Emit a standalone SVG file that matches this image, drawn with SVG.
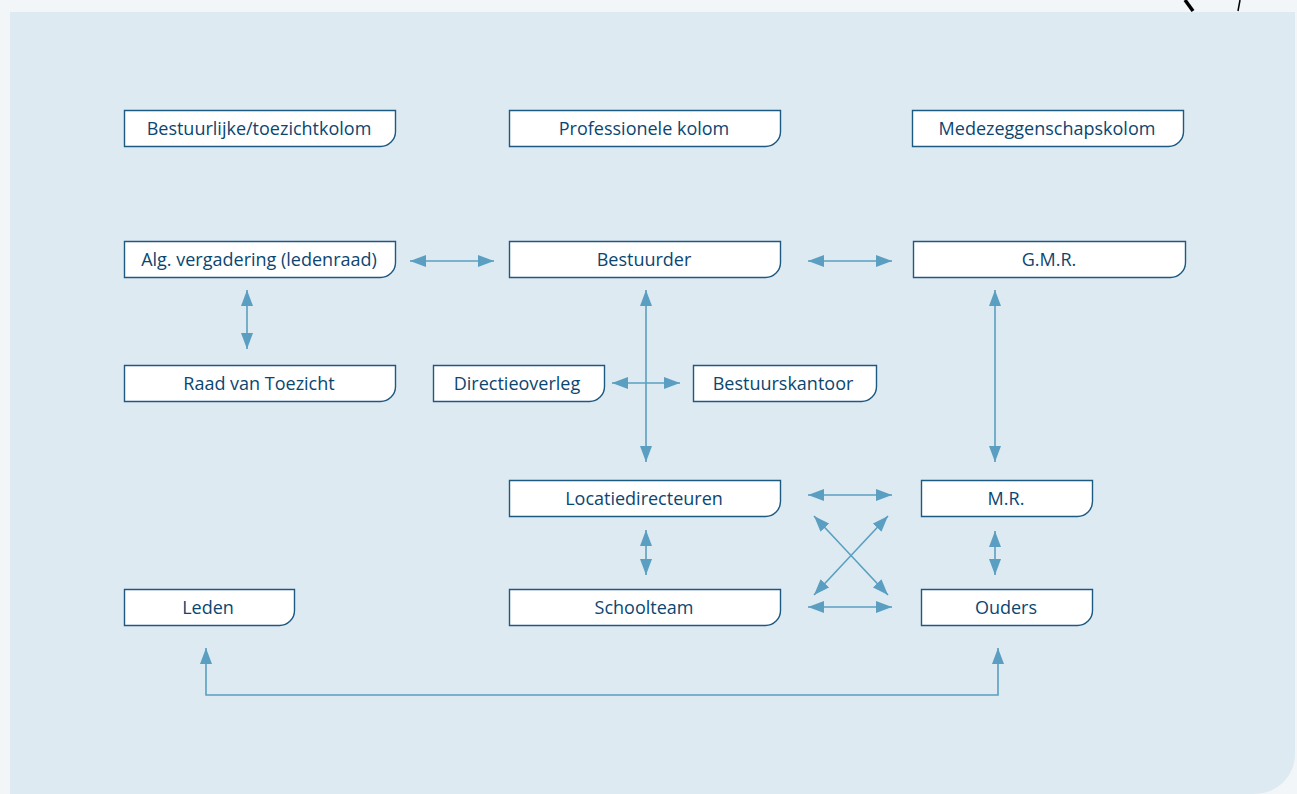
<svg xmlns="http://www.w3.org/2000/svg" width="1297" height="794" viewBox="0 0 1297 794">
<defs>
<style>
.box{fill:#ffffff;stroke:#1d5a82;stroke-width:1.4}
.lbl{font-family:"Open Sans","Noto Sans",sans-serif;font-size:18px;font-weight:500;fill:#0b4670;text-anchor:middle}
.c{fill:none;stroke:#5a9fc1;stroke-width:1.6}
</style>
<marker id="ah" viewBox="0 0 16 12" refX="16" refY="6" markerWidth="16" markerHeight="12" markerUnits="userSpaceOnUse" orient="auto-start-reverse">
<path d="M0,0 L16,6 L0,12 Z" fill="#5a9fc1"/>
</marker>
</defs>
<rect x="0" y="0" width="1297" height="794" fill="#f2f6f9"/>
<path d="M10,12 H1295 V754 A40,40 0 0 1 1255,794 H10 Z" fill="#deeaf2"/>
<path d="M1185,0 L1193,11" stroke="#000" stroke-width="3.5" fill="none"/>
<path d="M1240,0 L1238,11" stroke="#000" stroke-width="1.5" fill="none"/>

<g id="n-bestuurlijk"><path class="box" d="M124.5,110.5 H395.5 V131.5 A15,15 0 0 1 380.5,146.5 H124.5 Z"/><text class="lbl" x="259" y="134.5">Bestuurlijke/toezichtkolom</text></g>
<g id="n-professioneel"><path class="box" d="M509.5,110.5 H780.5 V131.5 A15,15 0 0 1 765.5,146.5 H509.5 Z"/><text class="lbl" x="644" y="134.5">Professionele kolom</text></g>
<g id="n-medezeggenschap"><path class="box" d="M912.5,110.5 H1183.5 V131.5 A15,15 0 0 1 1168.5,146.5 H912.5 Z"/><text class="lbl" x="1047" y="134.5">Medezeggenschapskolom</text></g>

<g id="n-alg"><path class="box" d="M124.5,241.5 H395.5 V262.5 A15,15 0 0 1 380.5,277.5 H124.5 Z"/><text class="lbl" x="259" y="265.5">Alg. vergadering (ledenraad)</text></g>
<g id="n-bestuurder"><path class="box" d="M509.5,241.5 H780.5 V262.5 A15,15 0 0 1 765.5,277.5 H509.5 Z"/><text class="lbl" x="644" y="265.5">Bestuurder</text></g>
<g id="n-gmr"><path class="box" d="M913.5,241.5 H1185.5 V262.5 A15,15 0 0 1 1170.5,277.5 H913.5 Z"/><text class="lbl" x="1049" y="265.5">G.M.R.</text></g>

<g id="n-rvt"><path class="box" d="M124.5,365.5 H395.5 V386.5 A15,15 0 0 1 380.5,401.5 H124.5 Z"/><text class="lbl" x="259" y="389.5">Raad van Toezicht</text></g>
<g id="n-directieoverleg"><path class="box" d="M433.5,365.5 H604.5 V386.5 A15,15 0 0 1 589.5,401.5 H433.5 Z"/><text class="lbl" x="517" y="389.5">Directieoverleg</text></g>
<g id="n-bestuurskantoor"><path class="box" d="M693.5,365.5 H876.5 V386.5 A15,15 0 0 1 861.5,401.5 H693.5 Z"/><text class="lbl" x="783" y="389.5">Bestuurskantoor</text></g>

<g id="n-locatie"><path class="box" d="M509.5,480.5 H780.5 V501.5 A15,15 0 0 1 765.5,516.5 H509.5 Z"/><text class="lbl" x="644" y="504.5">Locatiedirecteuren</text></g>
<g id="n-mr"><path class="box" d="M921.5,480.5 H1092.5 V501.5 A15,15 0 0 1 1077.5,516.5 H921.5 Z"/><text class="lbl" x="1006" y="504.5">M.R.</text></g>

<g id="n-leden"><path class="box" d="M124.5,589.5 H294.5 V610.5 A15,15 0 0 1 279.5,625.5 H124.5 Z"/><text class="lbl" x="208" y="613.5">Leden</text></g>
<g id="n-schoolteam"><path class="box" d="M509.5,589.5 H780.5 V610.5 A15,15 0 0 1 765.5,625.5 H509.5 Z"/><text class="lbl" x="644" y="613.5">Schoolteam</text></g>
<g id="n-ouders"><path class="box" d="M921.5,589.5 H1092.5 V610.5 A15,15 0 0 1 1077.5,625.5 H921.5 Z"/><text class="lbl" x="1006" y="613.5">Ouders</text></g>

<g id="connectors">
<path class="c" d="M410,261 H494" marker-start="url(#ah)" marker-end="url(#ah)"/>
<path class="c" d="M808,261 H892" marker-start="url(#ah)" marker-end="url(#ah)"/>
<path class="c" d="M247,290 V349" marker-start="url(#ah)" marker-end="url(#ah)"/>
<path class="c" d="M646,290 V462" marker-start="url(#ah)" marker-end="url(#ah)"/>
<path class="c" d="M612,383 H680" marker-start="url(#ah)" marker-end="url(#ah)"/>
<path class="c" d="M995,290 V462" marker-start="url(#ah)" marker-end="url(#ah)"/>
<path class="c" d="M808,495 H892" marker-start="url(#ah)" marker-end="url(#ah)"/>
<path class="c" d="M808,607 H892" marker-start="url(#ah)" marker-end="url(#ah)"/>
<path class="c" d="M814,516 L888,595" marker-start="url(#ah)" marker-end="url(#ah)"/>
<path class="c" d="M888,516 L814,595" marker-start="url(#ah)" marker-end="url(#ah)"/>
<path class="c" d="M646,530 V575" marker-start="url(#ah)" marker-end="url(#ah)"/>
<path class="c" d="M995,531 V575" marker-start="url(#ah)" marker-end="url(#ah)"/>
<path class="c" d="M206,648 V695 H998 V648" marker-start="url(#ah)" marker-end="url(#ah)"/>
</g>
</svg>
